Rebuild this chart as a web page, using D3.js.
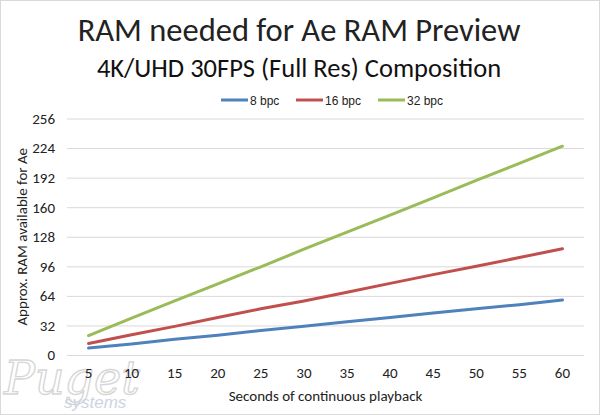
<!DOCTYPE html>
<html>
<head>
<meta charset="utf-8">
<script src="https://cdn.jsdelivr.net/npm/d3@7"></script>
<style>
  body { margin: 0; background: #fff; }
  svg { display: block; }
  .tick text { font-family: Calibri, Carlito, "Open Sans", sans-serif; fill: #222; }
</style>
</head>
<body>
<svg id="chart" width="600" height="415"></svg>
<script>
// Data.
const seconds = [5, 10, 15, 20, 25, 30, 35, 40, 45, 50, 55, 60];
const bpc8 = [7.5, 12, 17, 21.5, 26.5, 31, 36, 40.5, 45.5, 50, 54.5, 59.5];
const bpc16 = [12.5, 22, 31, 40.5, 50, 58.5, 68, 77.5, 87, 96, 105.5, 115];
const bpc32 = [21, 40, 58.5, 77, 95.5, 114.5, 133, 151.5, 170, 189, 207.5, 226];
const yTicks = [0, 32, 64, 96, 128, 160, 192, 224, 256];
const seriesNames = ["8 bpc", "16 bpc", "32 bpc"];
const seriesColors = ["#4f81bd", "#c0504d", "#9bbb59"];

const series = [bpc8, bpc16, bpc32].map((values, i) => ({
  name: seriesNames[i],
  color: seriesColors[i],
  values
}));

const svg = d3.select("#chart");
const width = 600, height = 415;
const margin = { left: 67, right: 16, top: 118.5, bottom: 60 };
const plotW = width - margin.left - margin.right;
const plotH = height - margin.top - margin.bottom;
const font = "Calibri, Carlito, 'Open Sans', sans-serif";

// Chart area border.
svg.append("rect")
  .attr("x", 0.5).attr("y", 0.5)
  .attr("width", width - 1).attr("height", height - 1)
  .attr("fill", "#fff").attr("stroke", "#d9d9d9");

// Watermark.
const mark = svg.append("g").attr("opacity", 0.9);
mark.append("text")
  .attr("x", 4).attr("y", 394)
  .attr("font-family", "DejaVu Serif, serif")
  .attr("font-style", "italic")
  .attr("font-size", 46)
  .attr("fill", "none")
  .attr("stroke", "#d2d2d2")
  .attr("stroke-width", 1.3)
  .text("Puget");
mark.append("text")
  .attr("x", 64).attr("y", 408)
  .attr("font-family", "Liberation Sans, sans-serif")
  .attr("font-style", "italic")
  .attr("font-size", 17)
  .attr("fill", "#c9cfe0")
  .text("systems");

// Titles.
svg.append("text")
  .attr("x", 299).attr("y", 41)
  .attr("text-anchor", "middle")
  .attr("font-family", font)
  .attr("font-size", 32.5)
  .attr("fill", "#222")
  .text("RAM needed for Ae RAM Preview");
svg.append("text")
  .attr("x", 299).attr("y", 77)
  .attr("text-anchor", "middle")
  .attr("font-family", font)
  .attr("font-size", 26.5)
  .attr("fill", "#111")
  .text("4K/UHD 30FPS (Full Res) Composition");

const x = d3.scaleBand()
  .domain(seconds)
  .range([0, plotW]);

const y = d3.scaleLinear()
  .domain([0, 256])
  .range([plotH, 0]);

const g = svg.append("g")
  .attr("transform", `translate(${margin.left},${margin.top})`);

// Gridlines and y labels.
const yAxis = g.append("g")
  .call(d3.axisLeft(y).tickValues(yTicks).tickSize(-plotW).tickPadding(12));
yAxis.select(".domain").remove();
yAxis.selectAll(".tick line").attr("stroke", "#d9d9d9");
yAxis.selectAll(".tick text").attr("font-size", 15);

// X labels.
const xAxis = g.append("g")
  .attr("transform", `translate(0,${plotH})`)
  .call(d3.axisBottom(x).tickSize(0).tickPadding(12));
xAxis.select(".domain").remove();
xAxis.selectAll(".tick text").attr("font-size", 15);

// Axis titles.
svg.append("text")
  .attr("transform", `translate(27,${margin.top + plotH / 2}) rotate(-90)`)
  .attr("text-anchor", "middle")
  .attr("font-family", font)
  .attr("font-size", 15)
  .attr("fill", "#222")
  .text("Approx. RAM available for Ae");
svg.append("text")
  .attr("x", margin.left + plotW / 2).attr("y", 401)
  .attr("text-anchor", "middle")
  .attr("font-family", font)
  .attr("font-size", 15)
  .attr("fill", "#222")
  .text("Seconds of continuous playback");

// Lines.
const line = d3.line()
  .x((d, i) => x(seconds[i]) + x.bandwidth() / 2)
  .y(d => y(d));

g.selectAll(".series")
  .data(series)
  .join("path")
  .attr("class", "series")
  .attr("fill", "none")
  .attr("stroke", d => d.color)
  .attr("stroke-width", 3)
  .attr("stroke-linecap", "round")
  .attr("d", d => line(d.values));

// Legend.
const legendX = [221, 296, 378];
const legend = svg.append("g").attr("transform", "translate(0,100)");
const item = legend.selectAll("g")
  .data(series)
  .join("g")
  .attr("transform", (d, i) => `translate(${legendX[i]},0)`);
item.append("line")
  .attr("x1", 0).attr("x2", 27)
  .attr("stroke", d => d.color)
  .attr("stroke-width", 3);
item.append("text")
  .attr("x", 29).attr("y", 4.5)
  .attr("font-family", "Liberation Sans, Arial, sans-serif")
  .attr("font-size", 12)
  .attr("fill", "#222")
  .text(d => d.name);
</script>
</body>
</html>
